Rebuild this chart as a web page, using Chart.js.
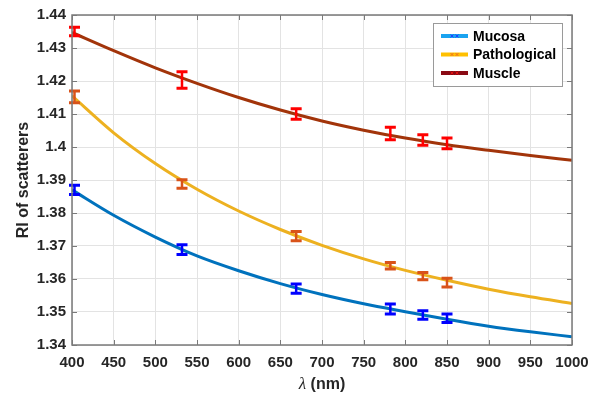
<!DOCTYPE html>
<html>
<head>
<meta charset="utf-8">
<script src="https://cdn.jsdelivr.net/npm/chart.js@4.4.1/dist/chart.umd.min.js"></script>
<style>
  html, body { margin: 0; padding: 0; background: #fff; }
  #wrap { position: relative; width: 599px; height: 397px; }
</style>
</head>
<body>
<div id="wrap"><canvas id="ri-chart" width="599" height="397"></canvas></div>
<script>
// fitted curves, sampled every 50 nm
const fitWavelengths = [400, 450, 500, 550, 600, 650, 700, 750, 800, 850, 900, 950, 1000];
const mucosaFit = [1.3870, 1.3793, 1.3727, 1.3670, 1.3625, 1.3586, 1.3553, 1.3525, 1.3501, 1.3478, 1.3457, 1.3440, 1.3425];
const pathologicalFit = [1.4155, 1.4043, 1.3950, 1.3872, 1.3806, 1.3750, 1.3702, 1.3661, 1.3626, 1.3596, 1.3569, 1.3546, 1.3526];
const muscleFit = [1.4347, 1.4292, 1.4240, 1.4193, 1.4150, 1.4112, 1.4079, 1.4051, 1.4027, 1.4007, 1.3990, 1.3974, 1.3960];

// measured points with error bars
const measuredWavelengths = [403, 532, 669, 782, 821, 850];
const mucosaRI = [1.3870, 1.3689, 1.3571, 1.3509, 1.3491, 1.3481];
const mucosaErr = [0.0014, 0.0015, 0.0014, 0.0015, 0.0013, 0.0013];
const pathologicalRI = [1.4152, 1.3888, 1.3730, 1.3640, 1.3609, 1.3589];
const pathologicalErr = [0.0018, 0.0013, 0.0014, 0.0010, 0.0011, 0.0013];
const muscleRI = [1.4350, 1.4203, 1.4100, 1.4041, 1.4021, 1.4011];
const muscleErr = [0.0013, 0.0025, 0.0016, 0.0019, 0.0016, 0.0016];

const xTicks = [400, 450, 500, 550, 600, 650, 700, 750, 800, 850, 900, 950, 1000];
const yTickLabels = ["1.34", "1.35", "1.36", "1.37", "1.38", "1.39", "1.4", "1.41", "1.42", "1.43", "1.44"];

const FONT = "'Liberation Sans', Arial, Helvetica, sans-serif";
const TEXT = "#262626";

const series = [
    { name: "Mucosa", fit: mucosaFit, ri: mucosaRI, err: mucosaErr,
      line: "#0072BD", bar: "#0000FF", legendLine: "#1AA3F0", legendMark: "#2040FF" },
    { name: "Pathological", fit: pathologicalFit, ri: pathologicalRI, err: pathologicalErr,
      line: "#EDB120", bar: "#D95319", legendLine: "#FFC000", legendMark: "#F07020" },
    { name: "Muscle", fit: muscleFit, ri: muscleRI, err: muscleErr,
      line: "#A2340A", bar: "#FF0000", legendLine: "#8A0A14", legendMark: "#E01010" },
];

// error bars, axes box with inward ticks, axis titles and legend
const decorations = {
    id: "decorations",
    afterDatasetsDraw(chart) {
        const { ctx, scales: { x, y } } = chart;
        ctx.save();
        series.forEach((s) => {
            ctx.strokeStyle = s.bar;
            ctx.lineCap = "butt";
            measuredWavelengths.forEach((wl, i) => {
                const px = x.getPixelForValue(wl);
                const top = y.getPixelForValue(s.ri[i] + s.err[i]);
                const bot = y.getPixelForValue(s.ri[i] - s.err[i]);
                ctx.lineWidth = 2.5;
                ctx.beginPath();
                ctx.moveTo(px, top);
                ctx.lineTo(px, bot);
                ctx.stroke();
                ctx.lineWidth = 3;
                ctx.beginPath();
                ctx.moveTo(px - 5.5, top);
                ctx.lineTo(px + 5.5, top);
                ctx.moveTo(px - 5.5, bot);
                ctx.lineTo(px + 5.5, bot);
                ctx.stroke();
            });
        });
        ctx.restore();
    },
    afterDraw(chart) {
        const { ctx, chartArea: a, scales: { x, y } } = chart;
        ctx.save();

        // box
        ctx.strokeStyle = "#7a7a7a";
        ctx.lineWidth = 1.5;
        ctx.strokeRect(a.left, a.top, a.right - a.left, a.bottom - a.top);

        // inward ticks on all four sides
        ctx.lineWidth = 1;
        ctx.beginPath();
        xTicks.forEach((v) => {
            const px = Math.round(x.getPixelForValue(v)) + 0.5;
            ctx.moveTo(px, a.bottom); ctx.lineTo(px, a.bottom - 5);
            ctx.moveTo(px, a.top); ctx.lineTo(px, a.top + 5);
        });
        yTickLabels.forEach((lbl) => {
            const py = Math.round(y.getPixelForValue(parseFloat(lbl))) + 0.5;
            ctx.moveTo(a.left, py); ctx.lineTo(a.left + 5, py);
            ctx.moveTo(a.right, py); ctx.lineTo(a.right - 5, py);
        });
        ctx.stroke();

        // y title
        ctx.fillStyle = TEXT;
        ctx.save();
        ctx.translate(24, (a.top + a.bottom) / 2);
        ctx.rotate(-Math.PI / 2);
        ctx.font = "bold 16px " + FONT;
        ctx.textAlign = "center";
        ctx.textBaseline = "middle";
        ctx.fillText("RI of scatterers", 0, 0);
        ctx.restore();

        // x title: italic lambda followed by unit
        const lam = "\u03BB";
        const unit = " (nm)";
        ctx.textBaseline = "middle";
        ctx.textAlign = "left";
        ctx.font = "italic 17px 'Liberation Serif', 'DejaVu Serif', serif";
        const wLam = ctx.measureText(lam).width;
        ctx.font = "bold 16px " + FONT;
        const wUnit = ctx.measureText(unit).width;
        let tx = (a.left + a.right) / 2 - (wLam + wUnit) / 2;
        ctx.font = "italic 17px 'Liberation Serif', 'DejaVu Serif', serif";
        ctx.fillText(lam, tx, 385);
        ctx.font = "bold 16px " + FONT;
        ctx.fillText(unit, tx + wLam, 385);

        // legend
        const lx = 433, ly = 23, lw = 129, lh = 63;
        ctx.fillStyle = "#fff";
        ctx.fillRect(lx, ly, lw, lh);
        ctx.strokeStyle = "#9a9a9a";
        ctx.lineWidth = 1;
        ctx.strokeRect(lx + 0.5, ly + 0.5, lw, lh);
        ctx.font = "bold 14px " + FONT;
        series.forEach((s, i) => {
            const cy = 36 + i * 18.5;
            ctx.strokeStyle = s.legendLine;
            ctx.lineWidth = 4;
            ctx.beginPath();
            ctx.moveTo(441, cy); ctx.lineTo(468, cy);
            ctx.stroke();
            ctx.strokeStyle = s.legendMark;
            ctx.lineWidth = 1;
            ctx.beginPath();
            [452, 457].forEach((mx) => {
                ctx.moveTo(mx - 1.5, cy - 1.5); ctx.lineTo(mx + 1.5, cy + 1.5);
                ctx.moveTo(mx + 1.5, cy - 1.5); ctx.lineTo(mx - 1.5, cy + 1.5);
            });
            ctx.stroke();
            ctx.fillStyle = "#000";
            ctx.textAlign = "left";
            ctx.textBaseline = "middle";
            ctx.fillText(s.name, 473, cy + 1);
        });

        ctx.restore();
    },
};

new Chart(document.getElementById("ri-chart").getContext("2d"), {
    type: "line",
    data: {
        datasets: series.map((s) => ({
            label: s.name,
            data: fitWavelengths.map((wl, i) => ({ x: wl, y: s.fit[i] })),
            borderColor: s.line,
            borderWidth: 3,
            pointRadius: 0,
            cubicInterpolationMode: "monotone",
            fill: false,
        })),
    },
    options: {
        responsive: false,
        animation: false,
        layout: { padding: { left: 0, right: 27, top: 14, bottom: 0 } },
        plugins: {
            legend: { display: false },
            tooltip: { enabled: false },
        },
        scales: {
            x: {
                type: "linear",
                min: 400,
                max: 1000,
                afterBuildTicks: (scale) => { scale.ticks = xTicks.map((v) => ({ value: v })); },
                afterFit: (scale) => { scale.height = 52; },
                grid: { color: "#e3e3e3", lineWidth: 1, drawTicks: false },
                border: { display: false },
                ticks: {
                    padding: 9,
                    color: TEXT,
                    font: { family: FONT, size: 15, weight: "bold" },
                    maxRotation: 0,
                    callback: (v) => String(v),
                },
            },
            y: {
                min: 1.34,
                max: 1.44,
                afterBuildTicks: (scale) => { scale.ticks = yTickLabels.map((l) => ({ value: parseFloat(l) })); },
                afterFit: (scale) => { scale.width = 72; },
                grid: { color: "#e3e3e3", lineWidth: 1, drawTicks: false },
                border: { display: false },
                ticks: {
                    padding: 6,
                    color: TEXT,
                    font: { family: FONT, size: 15, weight: "bold" },
                    callback: (v, i) => yTickLabels[i],
                },
            },
        },
    },
    plugins: [decorations],
});
</script>
</body>
</html>
